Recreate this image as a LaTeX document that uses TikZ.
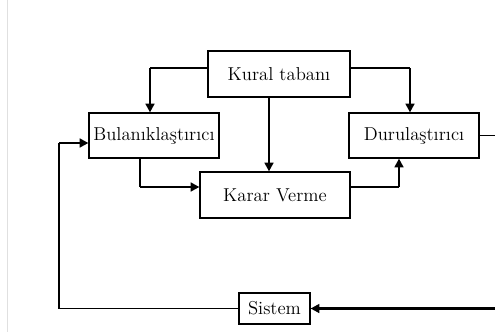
\documentclass[tikz,border=0pt]{standalone}
\usetikzlibrary{arrows.meta}
\begin{document}
\begin{tikzpicture}[x=0.75pt,y=0.75pt,yscale=-1,xscale=1,
  blok/.style={draw,line width=0.9pt,inner sep=0pt,font=\fontsize{14}{16}\selectfont},
  ince/.style={line width=0.9pt},
  kalin/.style={line width=2.2pt,-{Triangle[length=6.5pt,width=6.5pt]}}]
\useasboundingbox (0,0) rectangle (495,332);

%Straight Lines (faint page edge)
\draw [color=black!12,line width=0.6pt] (7,0) -- (7,332);

% Text Node
\node [blok,minimum width=106.5pt,minimum height=34.5pt] (kural) at (279,74) {Kural tabanı};
% Text Node
\node [blok,minimum width=97.5pt,minimum height=33.75pt] (bulanik) at (154,135.5) {Bulanıklaştırıcı};
% Text Node
\node [blok,minimum width=97.5pt,minimum height=33.75pt] (durul) at (414,135.5) {Durulaştırıcı};
% Text Node
\node [blok,minimum width=112.5pt,minimum height=34.5pt] (karar) at (275,195) {Karar Verme};
% Text Node
\node [blok,minimum width=53.25pt,minimum height=23.25pt] (sistem) at (274.5,308.5) {Sistem};

\coordinate (k1) at (150,68);
\coordinate (k2) at (410,68);
\coordinate (b1) at (140,187);
\coordinate (k3) at (399,187);
\coordinate (cikis) at (495,135.5);
\coordinate (giris) at (495,308.5);
\coordinate (g1) at (59,308.5);
\coordinate (g2) at (59,143);

%Straight Lines
\draw [ince] (kural.west |- k1) -- (k1);
\draw [kalin] (k1) -- (k1 |- bulanik.north);
%Straight Lines
\draw [ince] (kural.east |- k2) -- (k2);
\draw [kalin] (k2) -- (k2 |- durul.north);
%Straight Lines
\draw [kalin] ([xshift=-7.5pt]kural.south) -- ([xshift=-7.5pt]kural.south |- karar.north);
%Straight Lines
\draw [ince] (bulanik.south -| b1) -- (b1);
\draw [kalin] (b1) -- (b1 -| karar.west);
%Straight Lines
\draw [ince] (karar.east |- k3) -- (k3);
\draw [kalin] (k3) -- (k3 |- durul.south);
%Straight Lines
\draw [ince] (durul.east) -- (cikis);
%Straight Lines
\draw [kalin] (giris) -- (sistem.east);
%Straight Lines
\draw [ince] (sistem.west) -- (g1) -- (g2);
\draw [kalin] (g2) -- (g2 -| bulanik.west);

\end{tikzpicture}
\end{document}
